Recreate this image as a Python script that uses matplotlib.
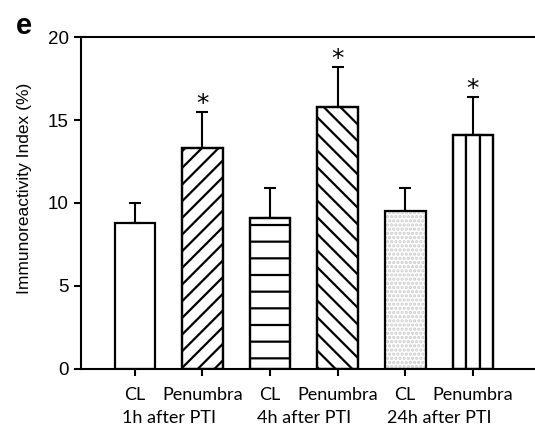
import matplotlib
matplotlib.use("Agg")
import matplotlib.pyplot as plt
import numpy as np

# valores
grupos = ["CL", "Penumbra", "CL", "Penumbra", "CL", "Penumbra"]
tiempos = ["1h after PTI", "4h after PTI", "24h after PTI"]
medias = [8.8, 13.3, 9.1, 15.8, 9.5, 14.1]
errores = [1.2, 2.2, 1.8, 2.4, 1.4, 2.3]
significativo = [False, True, False, True, False, True]
tramas = ["", "//", "-", "\\\\", "", ""]

plt.rcParams["font.family"] = ["Liberation Sans", "DejaVu Sans"]
plt.rcParams["hatch.linewidth"] = 1.6

fig = plt.figure(figsize=(5.35, 4.26), dpi=100)
ax = fig.add_axes([0.151, 0.1345, 0.849, 0.778])

x = np.arange(len(medias))
ancho = 0.6

# barra punteada (gris claro) primero
ax.bar(x[4], medias[4], width=ancho, color="white", edgecolor="#cccccc",
       hatch="....", linewidth=0, zorder=2)
for i in range(len(medias)):
    if tramas[i]:
        ax.bar(x[i], medias[i], width=ancho, color="white", edgecolor="black",
               linewidth=1.6, hatch=tramas[i], zorder=2)

# ultima barra: tres franjas verticales
for k in (-1, 0, 1):
    ax.bar(x[5] + k * ancho / 3, medias[5], width=ancho / 3, color="white",
           edgecolor="black", linewidth=1.6, zorder=2)

ax.bar(x, medias, width=ancho, color="none", edgecolor="black",
       linewidth=1.6, zorder=3)

ax.errorbar(x, medias, yerr=[[0] * len(errores), errores], fmt="none",
            ecolor="black", elinewidth=1.5, capsize=4, capthick=1.5, zorder=1)

for i in range(len(medias)):
    if significativo[i]:
        ax.annotate("*", (x[i], medias[i] + errores[i]), xytext=(0, 0.5),
                    textcoords="offset points", ha="center", va="baseline",
                    fontsize=18, family="DejaVu Sans")

ax.set_xlim(-0.8, 5.92)
ax.set_ylim(0, 20)
ax.set_yticks([0, 5, 10, 15, 20])
ax.tick_params(axis="y", labelsize=13.5, width=1.5, length=5, direction="out")
ax.set_xticks(x)
ax.set_xticklabels(grupos, fontsize=13, family="Lato")
ax.tick_params(axis="x", width=1.5, length=5, direction="out", pad=8)

for i, t in enumerate(tiempos):
    ax.text(2 * i + 0.5, -0.125, t, transform=ax.get_xaxis_transform(),
            ha="center", va="top", fontsize=13, family="Lato")

ax.spines["right"].set_visible(False)
for s in ["left", "bottom", "top"]:
    ax.spines[s].set_linewidth(1.5)

ax.set_ylabel("Immunoreactivity Index (%)", fontsize=12.5)
ax.yaxis.set_label_coords(-0.108, 0.545)
fig.text(0.03, 0.92, "e", fontsize=21, fontweight="bold")

fig.savefig("out.png", dpi=100)
